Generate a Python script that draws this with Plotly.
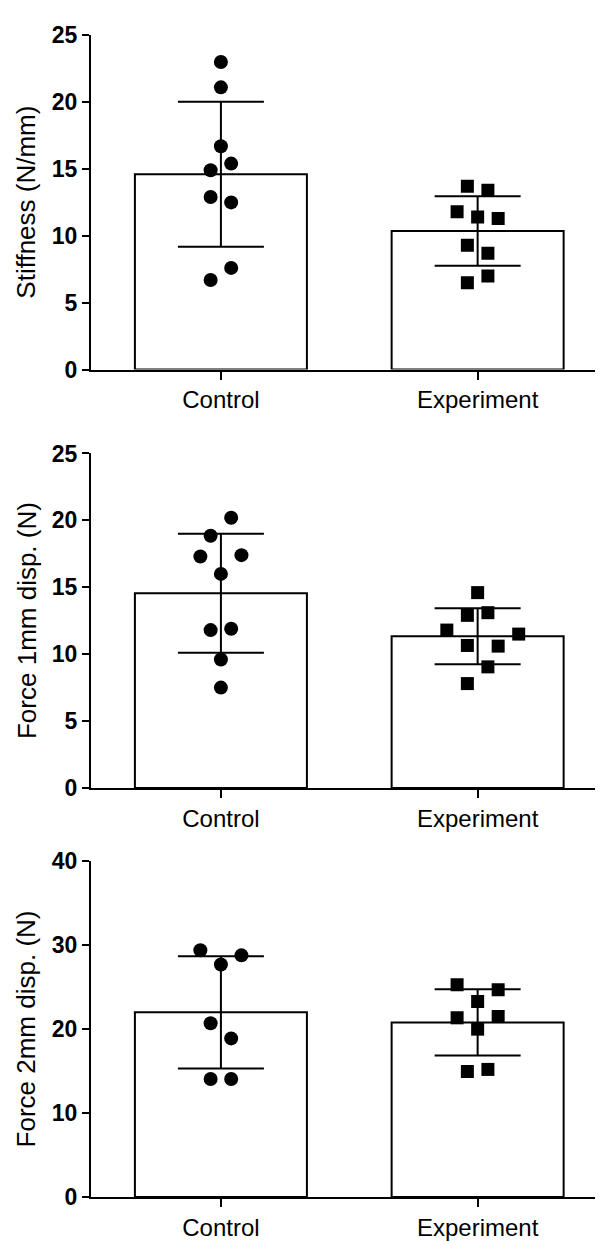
import plotly.graph_objects as go

# ---------------- data ----------------
categories = ["Control", "Experiment"]

stiff_ctrl = [23.0, 21.1, 16.7, 15.4, 14.9, 12.9, 12.5, 7.6, 6.7]
stiff_exp = [13.7, 13.4, 11.8, 11.4, 11.3, 9.3, 8.7, 7.0, 6.5]
stiff_mean = [14.6, 10.36]
stiff_sd = [5.42, 2.59]

f1_ctrl = [20.2, 18.85, 17.3, 17.4, 16.0, 11.8, 11.9, 9.6, 7.5]
f1_exp = [14.6, 12.9, 13.1, 11.8, 11.5, 10.65, 10.6, 9.05, 7.8]
f1_mean = [14.55, 11.34]
f1_sd = [4.45, 2.09]

f2_ctrl = [29.4, 28.8, 27.7, 20.7, 18.9, 14.05, 14.05]
f2_exp = [25.3, 24.7, 23.3, 21.35, 21.5, 20.0, 14.95, 15.2]
f2_mean = [22.0, 20.8]
f2_sd = [6.68, 3.95]

y_titles = ["Stiffness (N/mm)", "Force 1mm disp. (N)", "Force 2mm disp. (N)"]
y_ranges = [[0, 25], [0, 25], [0, 40]]
y_ticks = [[0, 5, 10, 15, 20, 25], [0, 5, 10, 15, 20, 25], [0, 10, 20, 30, 40]]

# horizontal scatter offsets of the dots (layout only)
jit_s_c = [0.0, 0.0, 0.0, 0.04, -0.04, -0.04, 0.04, 0.04, -0.04]
jit_s_e = [-0.04, 0.04, -0.08, 0.0, 0.08, -0.04, 0.04, 0.04, -0.04]
jit_f1_c = [0.04, -0.04, -0.08, 0.08, 0.0, -0.04, 0.04, 0.0, 0.0]
jit_f1_e = [0.0, -0.04, 0.04, -0.12, 0.16, -0.04, 0.08, 0.04, -0.04]
jit_f2_c = [-0.08, 0.08, 0.0, -0.04, 0.04, -0.04, 0.04]
jit_f2_e = [-0.08, 0.08, 0.0, -0.08, 0.08, 0.0, -0.04, 0.04]

panels = [
    (stiff_ctrl, stiff_exp, stiff_mean, stiff_sd, jit_s_c, jit_s_e),
    (f1_ctrl, f1_exp, f1_mean, f1_sd, jit_f1_c, jit_f1_e),
    (f2_ctrl, f2_exp, f2_mean, f2_sd, jit_f2_c, jit_f2_e),
]

W, H = 603, 1245
FONT = "Arial, 'Liberation Sans', Helvetica, sans-serif"
x_px = [83, 598]
y_px = [(14.5, 356), (441.7, 783.3), (858.3, 1201)]

fig = go.Figure()
layout = dict(
    width=W, height=H,
    margin=dict(l=0, r=0, t=0, b=0),
    paper_bgcolor="white", plot_bgcolor="white",
    showlegend=False,
    font=dict(family=FONT, color="black"),
)
annotations = []

for i, (ctrl, exp, mean, sd, jc, je) in enumerate(panels):
    sfx = "" if i == 0 else str(i + 1)
    xa, ya = "x" + sfx, "y" + sfx
    fig.add_trace(go.Bar(
        x=[0, 1], y=mean, width=0.67, xaxis=xa, yaxis=ya,
        marker=dict(color="white", line=dict(color="black", width=2)),
        error_y=dict(type="data", array=sd, visible=True, color="black",
                     thickness=2, width=43),
    ))
    fig.add_trace(go.Scatter(
        x=[0 + j for j in jc], y=ctrl, mode="markers", xaxis=xa, yaxis=ya,
        marker=dict(symbol="circle", size=14, color="black"),
    ))
    fig.add_trace(go.Scatter(
        x=[1 + j for j in je], y=exp, mode="markers", xaxis=xa, yaxis=ya,
        marker=dict(symbol="square", size=13, color="black"),
    ))
    top, bot = y_px[i]
    layout["xaxis" + sfx] = dict(
        domain=[x_px[0] / W, x_px[1] / W], range=[-0.506, 1.5],
        anchor=ya, tickvals=[0, 1], ticktext=categories,
        showline=True, linecolor="black", linewidth=2,
        ticks="outside", ticklen=8, tickwidth=2, tickcolor="black",
        showgrid=False, zeroline=False,
        tickfont=dict(family=FONT, size=24, color="black"),
    )
    layout["yaxis" + sfx] = dict(
        domain=[1 - bot / H, 1 - top / H], range=y_ranges[i],
        anchor=xa, tickvals=y_ticks[i],
        showline=True, linecolor="black", linewidth=2,
        ticks="outside", ticklen=7, tickwidth=2, tickcolor="black",
        showgrid=False, zeroline=False,
        tickfont=dict(family=FONT, size=23, color="black", weight="bold"),
    )
    annotations.append(dict(
        text=y_titles[i], textangle=-90, showarrow=False,
        xref="paper", yref="paper", x=18.3 / W, y=1 - (top + bot) / 2 / H,
        xanchor="center", yanchor="middle",
        font=dict(family=FONT, size=26, color="black"),
    ))

layout["annotations"] = annotations
fig.update_layout(**layout)
fig.write_html("out.html")
